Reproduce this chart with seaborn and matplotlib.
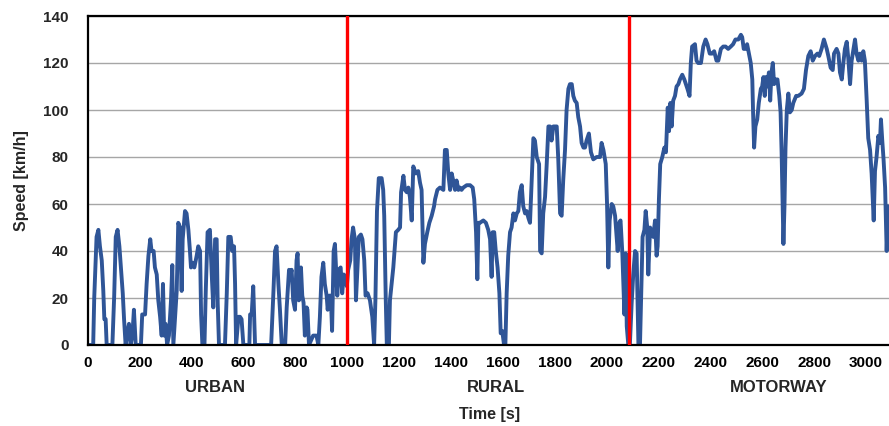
import seaborn as sns
import pandas as pd
import matplotlib.pyplot as plt

# speed trace, split by trip phase
urban_t = [0, 20, 24, 33, 40, 46, 53, 59, 63, 68, 72,
           94, 101, 107, 114, 121, 127, 134, 139, 145, 153, 158, 164, 171, 177, 184,
           204, 209, 220, 226, 233, 240, 245, 253, 258, 265, 271, 278, 284, 289, 294, 299,
           305, 312, 320, 325, 329, 342, 348, 355, 361, 365, 374, 380, 387, 393, 397, 402,
           410, 419, 425, 432, 436, 441,
           449, 454, 461, 470, 477, 483, 490, 496, 500, 505,
           528, 535, 541, 550, 556, 563, 567, 571, 580, 586, 592, 599,
           622, 625, 631, 637, 644,
           706, 715, 721, 727, 734, 740, 747,
           760, 766, 775, 781, 785, 791, 798, 804, 808, 813, 821, 826, 831, 836, 843, 846,
           852, 868, 875, 881, 888, 894, 900, 907, 913, 920, 924, 930, 936, 941, 947, 952,
           956, 961, 967, 974, 980, 986, 993, 998]
urban_v = [0, 0, 20, 46, 49, 42, 36, 23, 11, 11, 0,
           0, 21, 46, 49, 42, 33, 22, 11, 0, 6, 9, 0, 4, 15, 0,
           0, 13, 13, 26, 38, 45, 40, 40, 33, 30, 19, 12, 4, 26, 4, 9,
           0, 4, 19, 34, 0, 23, 52, 50, 23, 45, 57, 56, 49, 40, 33, 35,
           33, 38, 42, 40, 13, 0,
           0, 23, 48, 49, 30, 16, 45, 45, 18, 0,
           0, 22, 46, 46, 40, 42, 26, 0, 12, 12, 11, 0,
           0, 13, 13, 25, 0,
           0, 23, 40, 42, 26, 15, 0,
           0, 16, 32, 30, 32, 19, 15, 36, 39, 19, 33, 21, 18, 4, 16, 15,
           0, 4, 4, 4, 0, 12, 29, 35, 26, 21, 15, 21, 21, 6, 40, 43,
           33, 21, 32, 33, 22, 30, 29, 25]

rural_t = [1003, 1011, 1016, 1022, 1029, 1033, 1039, 1044, 1052, 1058, 1065, 1070, 1078,
           1087, 1096, 1103, 1108, 1114, 1121, 1132, 1138, 1142, 1148, 1152, 1160, 1164,
           1177, 1187, 1196, 1203, 1207, 1216, 1222, 1229, 1235, 1241, 1248, 1254, 1264,
           1273, 1280, 1286, 1293, 1299, 1308, 1316, 1325, 1334, 1338, 1347, 1357, 1370,
           1376, 1383, 1389, 1396, 1402, 1408, 1415, 1421, 1428, 1434, 1440, 1447, 1460,
           1473, 1483, 1489, 1496, 1501, 1505, 1511, 1524, 1534, 1543, 1550, 1556, 1560,
           1566, 1572, 1579, 1586, 1591, 1597, 1604, 1609, 1614, 1620, 1627, 1633, 1640,
           1646, 1653, 1659, 1665, 1672, 1678, 1685, 1691, 1698, 1704, 1710, 1717, 1723,
           1730, 1739, 1743, 1749, 1755, 1762, 1768, 1775, 1781, 1787, 1794, 1807, 1813,
           1820, 1826, 1832, 1839, 1845, 1852, 1858, 1865, 1871, 1877, 1884, 1890, 1897,
           1903, 1910, 1916, 1922, 1931, 1939, 1948, 1961, 1974, 1980, 1987, 1996, 2001,
           2006, 2011, 2019, 2025, 2032, 2038, 2042, 2048, 2053, 2060, 2068, 2073, 2077,
           2083]
rural_v = [32, 36, 45, 50, 45, 19, 33, 46, 47, 45, 36, 21, 22,
           19, 12, 0, 19, 57, 71, 71, 66, 55, 19, 0, 0, 19,
           33, 48, 49, 50, 65, 72, 66, 65, 67, 63, 53, 76, 73,
           74, 69, 66, 35, 43, 48, 52, 55, 59, 62, 66, 67, 66,
           83, 83, 73, 66, 73, 70, 66, 70, 66, 67, 66, 67, 68,
           68, 67, 62, 48, 28, 52, 52, 53, 52, 49, 45, 29, 48,
           48, 40, 33, 22, 5, 6, 0, 0, 22, 38, 48, 50, 56,
           53, 56, 57, 65, 68, 59, 56, 57, 54, 52, 69, 88, 87,
           80, 77, 40, 39, 56, 63, 76, 93, 93, 87, 93, 93, 79,
           56, 55, 70, 83, 100, 109, 111, 111, 106, 104, 103, 97, 93,
           86, 84, 84, 87, 90, 82, 79, 80, 80, 86, 83, 77, 60,
           33, 53, 60, 59, 55, 46, 40, 52, 53, 39, 13, 39, 8,
           0]

motorway_t = [2089, 2096, 2102, 2109, 2115, 2122, 2128, 2134, 2138, 2145, 2150, 2156, 2160,
              2167, 2173, 2179, 2186, 2192, 2196, 2201, 2206, 2214, 2222, 2228, 2235, 2240,
              2245, 2250, 2256, 2263, 2269, 2276, 2282, 2291, 2299, 2311, 2319, 2324, 2329,
              2340, 2346, 2352, 2363, 2372, 2381, 2388, 2397, 2406, 2414, 2423, 2430, 2440,
              2449, 2458, 2468, 2478, 2487, 2496, 2507, 2517, 2522, 2528, 2535, 2541, 2548,
              2555, 2561, 2564, 2568, 2573, 2580, 2586, 2594, 2599, 2604, 2609, 2613, 2618,
              2625, 2630, 2635, 2640, 2645, 2652, 2658, 2665, 2670, 2674, 2678, 2681, 2685,
              2689, 2694, 2700, 2706, 2713, 2719, 2730, 2738, 2751, 2760, 2768, 2777, 2786,
              2794, 2803, 2812, 2819, 2828, 2837, 2848, 2854, 2863, 2871, 2876, 2886, 2893,
              2899, 2906, 2912, 2918, 2925, 2931, 2938, 2944, 2951, 2957, 2963, 2970, 2976,
              2983, 2989, 2995, 3002, 3008, 3015, 3021, 3029, 3034, 3040, 3047, 3053, 3057,
              3062, 3067, 3073, 3079, 3085, 3088]
motorway_v = [0, 18, 30, 40, 39, 0, 0, 28, 46, 49, 57, 50, 30,
              50, 48, 46, 53, 38, 42, 62, 77, 80, 84, 82, 101, 91,
              103, 93, 104, 106, 110, 111, 113, 115, 113, 109, 106, 120, 127,
              128, 121, 120, 120, 127, 130, 128, 124, 124, 125, 121, 121, 126,
              127, 127, 126, 127, 128, 130, 130, 132, 131, 126, 126, 128, 124,
              120, 113, 99, 84, 93, 96, 103, 109, 110, 114, 106, 114, 110,
              116, 104, 116, 120, 111, 113, 113, 106, 99, 82, 59, 43, 59,
              84, 100, 107, 99, 100, 103, 106, 106, 107, 109, 117, 123, 125,
              121, 123, 124, 123, 126, 130, 126, 123, 118, 117, 124, 126, 124,
              116, 113, 120, 126, 129, 122, 111, 121, 126, 130, 124, 121, 124,
              121, 125, 121, 104, 88, 83, 73, 53, 74, 80, 89, 86, 96,
              87, 79, 67, 40, 59, 55]

phase_names = ["URBAN", "RURAL", "MOTORWAY"]
phase_label_t = [490, 1573, 2664]
phase_bounds = [998, 2086]

df = pd.DataFrame({
    "Time [s]": urban_t + rural_t + motorway_t,
    "Speed [km/h]": urban_v + rural_v + motorway_v,
})

sns.set_theme(style="white")
plt.rcParams['font.family'] = ['Liberation Sans Narrow', 'Liberation Sans', 'DejaVu Sans']

fig = plt.figure(figsize=(8.89, 4.26), dpi=100)
ax = fig.add_axes([88 / 889, 81 / 426, 801 / 889, 329 / 426])

ax.yaxis.grid(True, color="#a6a6a6", linewidth=1.0)
ax.set_axisbelow(True)

sns.lineplot(data=df, x="Time [s]", y="Speed [km/h]", ax=ax, color="#2f5597",
             linewidth=2.8, estimator=None, sort=False)

for b in phase_bounds:
    ax.axvline(b, color="#ff0000", linewidth=2.4, zorder=3)

ax.set_xlim(0, 3088)
ax.set_ylim(0, 140)
ax.set_xticks(range(0, 3001, 200))
ax.set_yticks(range(0, 141, 20))

for s in ["left", "bottom", "top"]:
    ax.spines[s].set_color("black")
    ax.spines[s].set_linewidth(1.6)
ax.spines["right"].set_visible(False)

ax.tick_params(axis="x", direction="in", length=4, width=1, colors="black", pad=8,
               labelsize=11)
ax.tick_params(axis="y", length=0, pad=14, labelsize=11)
for lab in ax.get_xticklabels() + ax.get_yticklabels():
    lab.set_fontweight("bold")

ax.set_xlabel("")
ax.set_ylabel("Speed [km/h]", fontsize=11.5, fontweight="bold", labelpad=10)
fig.text(490 / 889, 1 - 414 / 426, "Time [s]", ha="center", va="center",
         fontsize=11.5, fontweight="bold")

trans = ax.get_xaxis_transform()
for name, t in zip(phase_names, phase_label_t):
    ax.text(t, -0.13, name, transform=trans, ha="center", va="center",
            fontsize=12, fontweight="bold")

fig.savefig("out.png", dpi=100)
